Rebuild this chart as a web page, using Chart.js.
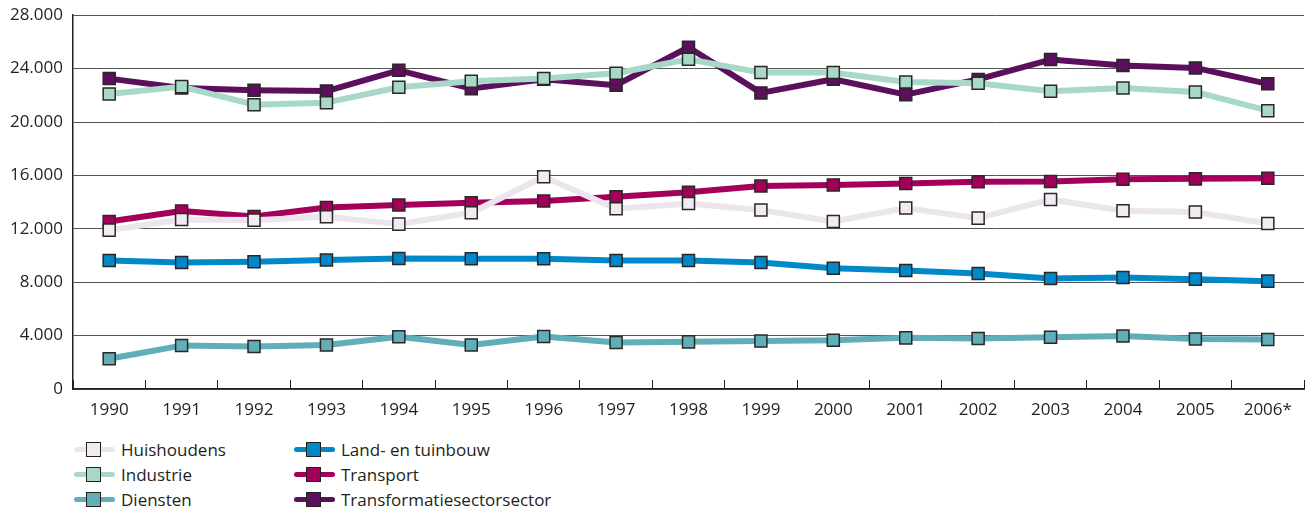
<!DOCTYPE html>
<html>
<head>
<meta charset="utf-8">
<script src="https://cdn.jsdelivr.net/npm/chart.js@4/dist/chart.umd.min.js"></script>
<style>
  body { margin: 0; background: #fff; font-family: "Open Sans", sans-serif; color: #231f20; overflow: hidden; }
  #wrap { position: relative; width: 1314px; height: 511px; overflow: hidden; }
  #box { position: absolute; left: 0; top: -5px; width: 1314px; height: 435px; }
  #legend { position: absolute; left: 74px; top: 437px; display: grid;
            grid-template-columns: 220px 280px; grid-auto-flow: column; grid-template-rows: repeat(3, 25px); }
  .item { display: flex; align-items: center; font-size: 17px; white-space: nowrap; }
  .mark { position: relative; width: 41px; height: 16px; margin-right: 6px; }
  .mark .ln { position: absolute; left: 0; right: 0; top: 5.5px; height: 5px; border-radius: 3px; }
  .mark .sq { position: absolute; left: 12px; top: 0; width: 13px; height: 13px; border: 1.5px solid #231f20; }
</style>
</head>
<body>
<div id="wrap">
  <div id="box"><canvas id="chart"></canvas></div>
  <div id="legend"></div>
</div>
<script>
// ===== DATA =====
const YEARS = ['1990','1991','1992','1993','1994','1995','1996','1997','1998','1999','2000',
               '2001','2002','2003','2004','2005','2006*'];

const HUISHOUDENS   = [11900,12700,12650,12900,12350,13200,15900,13500,13900,13400,12550,13550,12800,14200,13350,13250,12400];
const INDUSTRIE     = [22100,22650,21300,21450,22600,23050,23250,23650,24700,23700,23700,23000,22900,22300,22550,22250,20850];
const DIENSTEN      = [2270,3250,3180,3300,3920,3300,3930,3480,3530,3600,3650,3830,3780,3880,3970,3750,3700];
const LAND_TUINBOUW = [9620,9470,9540,9670,9770,9750,9750,9620,9620,9470,9050,8870,8650,8270,8350,8230,8080];
const TRANSPORT     = [12540,13330,12920,13600,13780,13950,14080,14400,14730,15210,15280,15400,15530,15550,15710,15740,15780];
const TRANSFORMATIE = [23250,22550,22380,22320,23870,22500,23200,22760,25600,22180,23200,22050,23190,24680,24230,24050,22860];

const SERIES = [
  { label: 'Huishoudens',               data: HUISHOUDENS,   line: '#ede5ee', fill: '#f2ecf2' },
  { label: 'Industrie',                 data: INDUSTRIE,     line: '#a8d8c8', fill: '#a8d8c8' },
  { label: 'Diensten',                  data: DIENSTEN,      line: '#5faeb8', fill: '#5faeb8' },
  { label: 'Land- en tuinbouw',         data: LAND_TUINBOUW, line: '#0088c8', fill: '#0088c8' },
  { label: 'Transport',                 data: TRANSPORT,     line: '#a4005a', fill: '#a4005a' },
  { label: 'Transformatiesectorsector', data: TRANSFORMATIE, line: '#5b0f5c', fill: '#5b0f5c' },
];

const fmt = v => String(v).replace(/\B(?=(\d{3})+(?!\d))/g, '.');

// ======== CHART ========
const chart = new Chart(document.getElementById('chart'), {
  type: 'line',
  data: {
    labels: YEARS,
    datasets: SERIES.map(s => ({
      label: s.label,
      data: s.data,
      borderColor: s.line,
      backgroundColor: s.fill,
      borderWidth: 6,
      borderJoinStyle: 'round',
      tension: 0,
      pointStyle: 'rect',
      pointRadius: 8.5,
      pointBackgroundColor: s.fill,
      pointBorderColor: '#2b2628',
      pointBorderWidth: 1.5,
      fill: false,
    })),
  },
  options: {
    responsive: true, maintainAspectRatio: false, animation: false,
    layout: { padding: { top: 0, right: 5, left: 0, bottom: 0 } },
    plugins: { legend: { display: false }, tooltip: { enabled: false } },
    scales: {
      x: {
        offset: true,
        grid: { offset: true, drawOnChartArea: false, drawTicks: true, tickLength: -9, color: '#231f20', lineWidth: 1 },
        border: { color: '#231f20', width: 1.5 },
        ticks: { color: '#231f20', font: { family: 'Open Sans', size: 17 }, padding: 20, maxRotation: 0, autoSkip: false },
        afterFit: s => { s.height = 41; },
      },
      y: {
        min: 0, max: 28000,
        grid: { color: '#555', lineWidth: 1, drawTicks: false },
        border: { color: '#231f20', width: 1.5 },
        ticks: { stepSize: 4000, color: '#231f20', font: { family: 'Open Sans', size: 17 }, padding: 10, callback: v => fmt(v) },
        afterFit: s => { s.width = 73; },
      },
    },
  },
});

// ======== LEGEND ========
document.getElementById('legend').innerHTML = chart.data.datasets.map(d => `
  <div class="item">
    <div class="mark"><div class="ln" style="background:${d.borderColor}"></div>
      <div class="sq" style="background:${d.pointBackgroundColor}"></div></div>
    <span>${d.label}</span>
  </div>`).join('');
</script>
</body>
</html>
